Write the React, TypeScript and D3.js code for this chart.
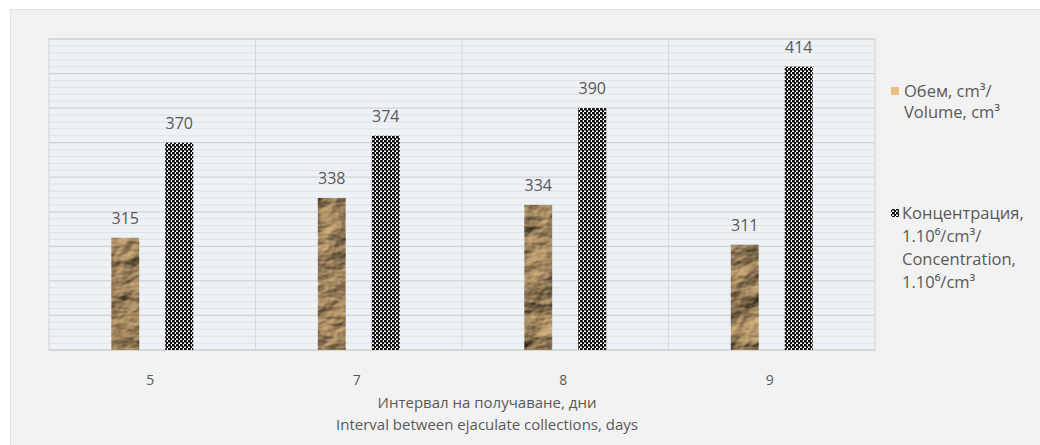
import React from "react";
import * as d3 from "d3";

// Interval between collections (days) and the two measured series
const categories = ["5", "7", "8", "9"];
const volumeValues = [315, 338, 334, 311];
const concentrationValues = [370, 374, 390, 414];
const yDomain: [number, number] = [250, 430];

const W = 1040;
const H = 445;
const plot = { left: 49, right: 875, top: 39, bottom: 350 };
const FONT = "'Open Sans', 'Noto Sans', sans-serif";
const TEXT = "#595959";

export default function App() {
  const x = d3
    .scaleBand<string>()
    .domain(categories)
    .range([plot.left, plot.right])
    .paddingInner(0)
    .paddingOuter(0);
  const y = d3.scaleLinear().domain(yDomain).range([plot.bottom, plot.top]);

  const majorTicks = d3.range(yDomain[0], yDomain[1] + 1, 20);
  const minorTicks = d3.range(yDomain[0], yDomain[1] + 1, 4).filter((v) => (v - yDomain[0]) % 20 !== 0);

  const barW = 28;
  const offset = 27;
  const bw = x.bandwidth();

  return (
    <svg width={W} height={H} style={{ position: "absolute", left: 0, top: 0 }}>
      <defs>
        <pattern id="checker" width={4} height={4} patternUnits="userSpaceOnUse">
          <rect width={4} height={4} fill="#ffffff" />
          <rect x={0} y={0} width={2.8} height={2.5} fill="#0a0a0a" />
          <rect x={2} y={2} width={2.8} height={2.5} fill="#0a0a0a" />
        </pattern>
        {/* crumpled kraft-paper fill: shaded noise multiplied over the tan base */}
        <filter id="paper" x="0" y="0" width="1" height="1" colorInterpolationFilters="sRGB">
          <feTurbulence type="fractalNoise" baseFrequency="0.025 0.04" numOctaves={4} seed={11} result="noise" />
          <feDiffuseLighting in="noise" lightingColor="#ffffff" surfaceScale={5} diffuseConstant={1.0} result="light">
            <feDistantLight azimuth={225} elevation={42} />
          </feDiffuseLighting>
          <feBlend in="light" in2="SourceGraphic" mode="multiply" result="shaded" />
          <feComposite in="shaded" in2="SourceGraphic" operator="in" />
        </filter>
      </defs>

      {/* chart area */}
      <rect x={0} y={0} width={W} height={H} fill="#ffffff" />
      <rect x={10.5} y={9.5} width={W - 10} height={H - 9} fill="#f2f2f2" stroke="#e2e2e2" />

      {/* plot area */}
      <rect
        x={plot.left}
        y={plot.top}
        width={plot.right - plot.left}
        height={plot.bottom - plot.top}
        fill="#eef1f5"
      />
      {minorTicks.map((t) => (
        <line key={"mi" + t} x1={plot.left} x2={plot.right} y1={y(t)} y2={y(t)} stroke="#dfe2e6" strokeWidth={1} />
      ))}
      {majorTicks.map((t) => (
        <line key={"ma" + t} x1={plot.left} x2={plot.right} y1={y(t)} y2={y(t)} stroke="#d3d3d3" strokeWidth={1.3} />
      ))}
      {categories.slice(1).map((c) => (
        <line key={"v" + c} x1={x(c)!} x2={x(c)!} y1={plot.top} y2={plot.bottom} stroke="#d9d9d9" />
      ))}
      <rect
        x={plot.left}
        y={plot.top}
        width={plot.right - plot.left}
        height={plot.bottom - plot.top}
        fill="none"
        stroke="#d4d4d4"
      />

      {/* bars */}
      {categories.map((c, i) => {
        const cx = x(c)! + bw / 2;
        const v1 = volumeValues[i];
        const v2 = concentrationValues[i];
        return (
          <g key={c}>
            <rect
              x={cx - offset - barW / 2}
              y={y(v1)}
              width={barW}
              height={y(yDomain[0]) - y(v1)}
              fill="#e6bf88"
              filter="url(#paper)"
            />
            <rect
              x={cx + offset - barW / 2}
              y={y(v2)}
              width={barW}
              height={y(yDomain[0]) - y(v2)}
              fill="url(#checker)"
            />
            <text x={cx - offset} y={y(v1) - 14} textAnchor="middle" fontFamily={FONT} fontSize={16} fill={TEXT}>
              {v1}
            </text>
            <text x={cx + offset} y={y(v2) - 14} textAnchor="middle" fontFamily={FONT} fontSize={16} fill={TEXT}>
              {v2}
            </text>
            <text x={cx - 2} y={385} textAnchor="middle" fontFamily={FONT} fontSize={14} fill={TEXT}>
              {c}
            </text>
          </g>
        );
      })}

      {/* axis title */}
      <text x={487} y={408} textAnchor="middle" fontFamily={FONT} fontSize={15} fill={TEXT}>
        Интервал на получаване, дни
      </text>
      <text x={487} y={430} textAnchor="middle" fontFamily={FONT} fontSize={15} fill={TEXT}>
        Interval between ejaculate collections, days
      </text>

      {/* legend */}
      <rect x={891} y={87} width={8} height={8} fill="#e8bf86" />
      <text fontFamily={FONT} fontSize={16.5} fill={TEXT}>
        <tspan x={904} y={97}>Обем, cm³/</tspan>
        <tspan x={904} y={118}>Volume, cm³</tspan>
      </text>
      <rect x={891} y={209} width={8} height={8} fill="url(#checker)" />
      <text fontFamily={FONT} fontSize={16.5} fill={TEXT}>
        <tspan x={902} y={219}>Концентрация,</tspan>
        <tspan x={902} y={242}>1.10⁶/cm³/</tspan>
        <tspan x={902} y={265}>Concentration,</tspan>
        <tspan x={902} y={288}>1.10⁶/cm³</tspan>
      </text>
    </svg>
  );
}
